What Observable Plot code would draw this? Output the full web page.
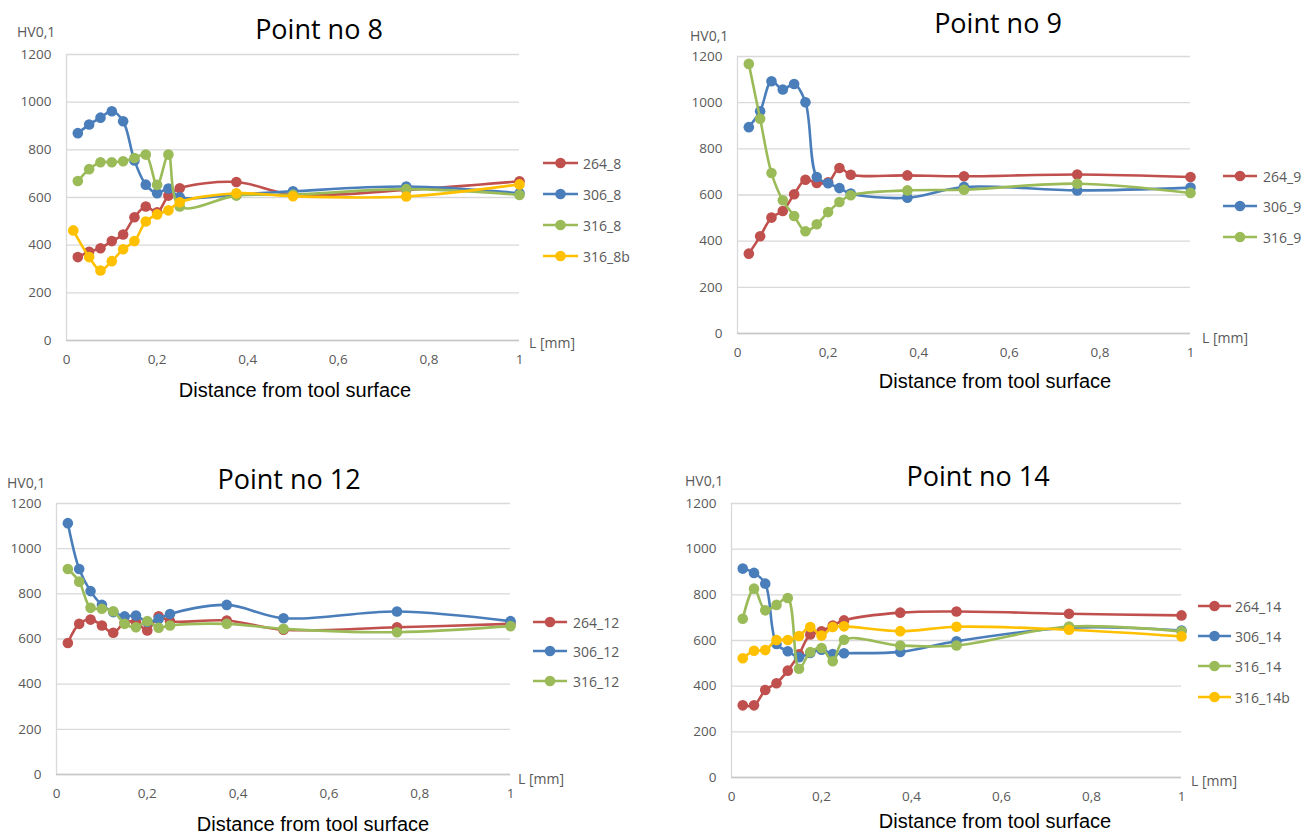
<!DOCTYPE html>
<html>
<head>
<meta charset="utf-8">
<script src="https://cdn.jsdelivr.net/npm/d3@7"></script>
<script src="https://cdn.jsdelivr.net/npm/@observablehq/plot@0.6"></script>
<style>
  html, body { margin: 0; padding: 0; background: #fff; }
  #root { position: relative; width: 1312px; height: 834px; overflow: hidden; background: #fff; }
  .abs { position: absolute; white-space: nowrap; }
  .title { font-family: "Open Sans", sans-serif; font-size: 27px; color: #000; transform: translate(-50%, -50%); }
  .cap { font-family: "Liberation Sans", Arial, sans-serif; font-size: 20px; color: #000; transform: translate(-50%, -50%); }
  .small { font-family: "Open Sans", sans-serif; font-size: 14px; color: #595959; transform: translateY(-50%); }
  .leg { font-family: "Open Sans", sans-serif; font-size: 14px; color: #595959; transform: translateY(-50%); }
</style>
</head>
<body>
<div id="root"></div>
<script>
// ---------- data ----------
const xPos = [0.025, 0.05, 0.075, 0.1, 0.125, 0.15, 0.175, 0.2, 0.225, 0.25, 0.375, 0.5, 0.75, 1];
const xPos8b = [0.015, 0.05, 0.075, 0.1, 0.125, 0.15, 0.175, 0.2, 0.225, 0.25, 0.375, 0.5, 0.75, 1];

const s264_8  = [350, 372, 387, 417, 445, 517, 562, 538, 608, 639, 665, 612, 632, 668];
const s306_8  = [870, 906, 935, 962, 920, 755, 654, 618, 638, 601, 612, 626, 646, 618];
const s316_8  = [669, 719, 748, 748, 752, 766, 780, 653, 780, 562, 608, 612, 635, 611];
const s316_8b = [462, 350, 294, 333, 383, 417, 499, 529, 546, 580, 618, 605, 604, 655];

const s264_9 = [346, 421, 502, 531, 603, 666, 652, 655, 717, 688, 685, 681, 689, 678];
const s306_9 = [894, 963, 1093, 1057, 1081, 1002, 678, 651, 630, 606, 588, 635, 620, 632];
const s316_9 = [1168, 930, 695, 577, 509, 443, 473, 526, 570, 599, 620, 623, 649, 609];

const s264_12 = [582, 667, 686, 660, 628, 672, 675, 638, 701, 679, 682, 641, 652, 667];
const s306_12 = [1113, 910, 812, 751, 719, 700, 704, 675, 689, 711, 751, 692, 722, 679];
const s316_12 = [910, 854, 738, 734, 723, 667, 652, 679, 650, 660, 667, 645, 630, 657];

const s264_14  = [316, 316, 383, 413, 468, 540, 626, 640, 666, 688, 722, 727, 717, 710];
const s306_14  = [915, 896, 849, 585, 553, 527, 545, 560, 541, 544, 550, 597, 656, 644];
const s316_14  = [695, 827, 732, 756, 786, 476, 549, 567, 509, 603, 578, 578, 661, 640];
const s316_14b = [522, 555, 558, 602, 602, 620, 659, 622, 659, 662, 641, 660, 647, 618];

const xTicks = [0, 0.2, 0.4, 0.6, 0.8, 1];
const yTicks = [0, 200, 400, 600, 800, 1000, 1200];
const seriesColors = ["#C0504D", "#4A7EBB", "#9BBB59", "#FFC000"];

const panels = [
  { title: "Point no 8", series: [["264_8", xPos, s264_8], ["306_8", xPos, s306_8], ["316_8", xPos, s316_8], ["316_8b", xPos8b, s316_8b]] },
  { title: "Point no 9", series: [["264_9", xPos, s264_9], ["306_9", xPos, s306_9], ["316_9", xPos, s316_9]] },
  { title: "Point no 12", series: [["264_12", xPos, s264_12], ["306_12", xPos, s306_12], ["316_12", xPos, s316_12]] },
  { title: "Point no 14", series: [["264_14", xPos, s264_14], ["306_14", xPos, s306_14], ["316_14", xPos, s316_14], ["316_14b", xPos, s316_14b]] }
];

// ---------- layout ----------
const layout = [
  { left: 0, top: 0, mL: 66, mR: 137, mT: 54, mB: 77,
    titleX: 319, titleY: 28, hvX: 17, hvY: 31, lX: 529, lY: 342, capX: 295, capY: 390,
    legLine: [543, 578], legText: 583, legY0: 162.7, legDy: 31 },
  { left: 656, top: 0, mL: 81, mR: 122, mT: 56, mB: 84,
    titleX: 998, titleY: 22, hvX: 690, hvY: 35, lX: 1202, lY: 337, capX: 995, capY: 381,
    legLine: [1223, 1257], legText: 1263, legY0: 176, legDy: 30.4 },
  { left: 0, top: 417, mL: 56, mR: 146, mT: 86, mB: 60,
    titleX: 289, titleY: 478, hvX: 7, hvY: 482, lX: 518, lY: 778, capX: 313, capY: 824,
    legLine: [533, 567], legText: 573, legY0: 621.7, legDy: 29.5 },
  { left: 656, top: 417, mL: 75, mR: 131, mT: 86, mB: 57,
    titleX: 978, titleY: 475, hvX: 685, hvY: 480, lX: 1191, lY: 780, capX: 995, capY: 821,
    legLine: [1198, 1231], legText: 1235, legY0: 606, legDy: 30.2 }
];

const root = document.getElementById("root");
const fmtX = d => String(d).replace(".", ",");
const fmtY = d => String(d);

function addText(cls, txt, x, y) {
  const el = document.createElement("div");
  el.className = "abs " + cls;
  el.textContent = txt;
  el.style.left = x + "px";
  el.style.top = y + "px";
  root.appendChild(el);
}

panels.forEach((p, i) => {
  const L = layout[i];
  const names = p.series.map(s => s[0]);
  const colors = seriesColors.slice(0, names.length);
  const marks = [
    Plot.gridY(yTicks, { stroke: "#d9d9d9", strokeOpacity: 1, strokeWidth: 1.3 }),
    Plot.ruleX([0], { stroke: "#d9d9d9", strokeWidth: 1.3 }),
    Plot.ruleY([0], { stroke: "#c8c8c8", strokeWidth: 1.5 }),
    Plot.axisY(yTicks, { tickSize: 0, tickPadding: 15, label: null, fontSize: 13.5, tickFormat: fmtY }),
    Plot.axisX(xTicks, { tickSize: 0, tickPadding: 14, label: null, fontSize: 13.5, tickFormat: fmtX })
  ];
  p.series.forEach(([name, xs, ys]) => {
    const rows = xs.map((x, k) => ({ series: name, x, y: ys[k] }));
    marks.push(Plot.line(rows, { x: "x", y: "y", stroke: "series", strokeWidth: 2.6, curve: "catmull-rom" }));
    marks.push(Plot.dot(rows, { x: "x", y: "y", fill: "series", r: 5.3 }));
  });
  const chart = Plot.plot({
    width: 656, height: 417,
    marginLeft: L.mL, marginRight: L.mR, marginTop: L.mT, marginBottom: L.mB,
    x: { domain: [0, 1] },
    y: { domain: [0, 1200] },
    color: { domain: names, range: colors },
    style: { fontFamily: "Open Sans, sans-serif", color: "#595959", background: "transparent", overflow: "visible" },
    marks
  });
  chart.style.position = "absolute";
  chart.style.left = L.left + "px";
  chart.style.top = L.top + "px";
  root.appendChild(chart);

  addText("title", p.title, L.titleX, L.titleY);
  addText("small", "HV0,1", L.hvX, L.hvY);
  addText("small", "L [mm]", L.lX, L.lY);
  addText("cap", "Distance from tool surface", L.capX, L.capY);

  // legend
  names.forEach((n, k) => {
    const y = L.legY0 + k * L.legDy;
    const svg = document.createElementNS("http://www.w3.org/2000/svg", "svg");
    const w = L.legLine[1] - L.legLine[0];
    svg.setAttribute("width", w + 12);
    svg.setAttribute("height", 14);
    svg.style.position = "absolute";
    svg.style.left = (L.legLine[0] - 6) + "px";
    svg.style.top = (y - 7) + "px";
    svg.innerHTML = `<line x1="6" x2="${w + 6}" y1="7" y2="7" stroke="${colors[k]}" stroke-width="2.6"/>` +
      `<circle cx="${6 + w / 2}" cy="7" r="5.3" fill="${colors[k]}"/>`;
    root.appendChild(svg);
    addText("leg", n, L.legText, y);
  });
});
</script>
</body>
</html>
